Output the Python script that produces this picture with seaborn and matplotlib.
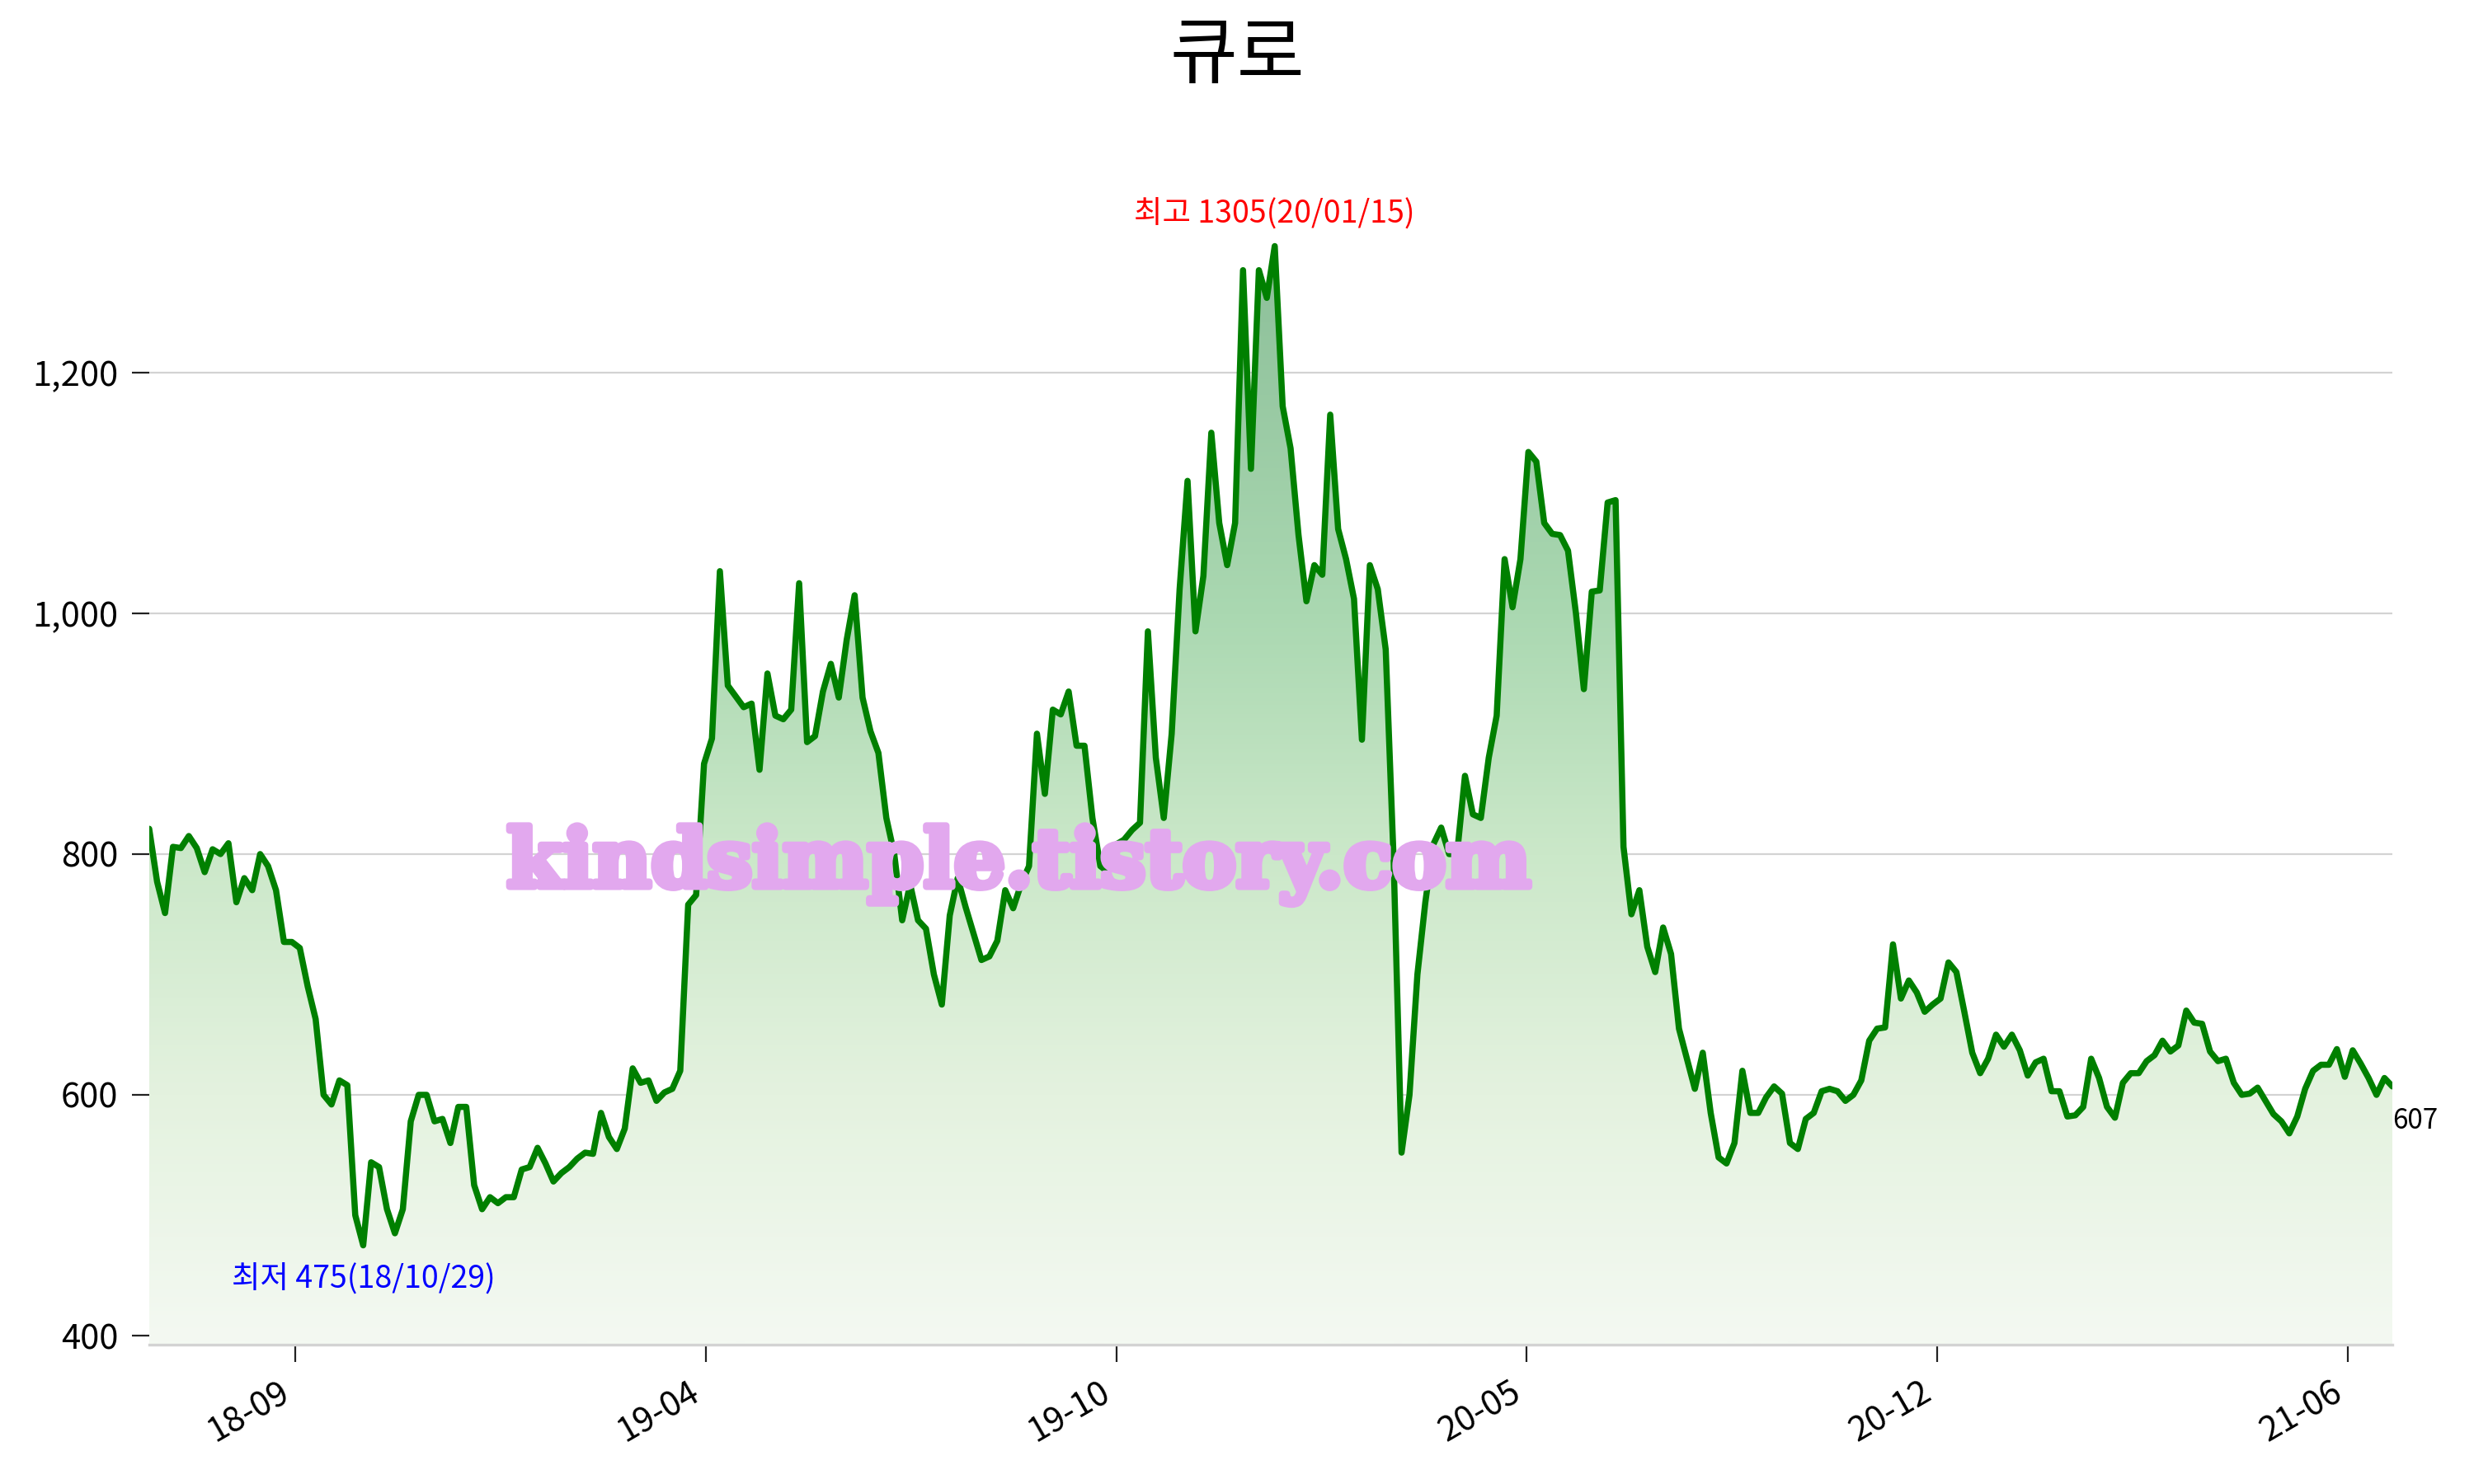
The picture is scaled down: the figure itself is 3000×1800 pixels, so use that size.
import numpy as np
import pandas as pd
import seaborn as sns
import matplotlib
matplotlib.use('Agg')
import matplotlib.pyplot as plt
import matplotlib.patheffects as pe
from matplotlib.colors import LinearSegmentedColormap
from matplotlib.patches import PathPatch
from matplotlib.ticker import FuncFormatter

# closing price, sampled about every 2.5 trading days (18-07 .. 21-06)
prices = [
    821, 777, 751, 806, 805, 815, 805, 785, 804, 800,
    809, 760, 780, 770, 800, 790, 770, 727, 727, 722,
    690, 663, 600, 592, 612, 608, 500, 475, 544, 540,
    505, 485, 505, 578, 600, 600, 578, 580, 560, 590,
    590, 525, 505, 515, 510, 515, 515, 538, 540, 556,
    543, 528, 535, 540, 547, 552, 551, 585, 565, 555,
    572, 622, 610, 612, 595, 602, 605, 620, 758, 766,
    875, 896, 1035, 940, 931, 922, 925, 870, 950, 915,
    912, 920, 1025, 893, 898, 935, 958, 930, 978, 1015,
    930, 902, 884, 830, 800, 745, 775, 745, 738, 700,
    675, 749, 780, 756, 734, 712, 715, 728, 770, 755,
    775, 790, 900, 850, 920, 916, 935, 890, 890, 830,
    790, 785, 808, 812, 820, 826, 985, 880, 830, 900,
    1020, 1110, 985, 1031, 1150, 1075, 1040, 1075, 1285, 1120,
    1285, 1262, 1305, 1172, 1137, 1065, 1010, 1040, 1032, 1165,
    1070, 1045, 1012, 895, 1040, 1020, 970, 795, 552, 600,
    700, 760, 808, 822, 800, 800, 865, 833, 830, 880,
    915, 1045, 1005, 1045, 1134, 1126, 1075, 1066, 1065, 1052,
    1000, 937, 1018, 1019, 1092, 1094, 806, 750, 770, 723,
    702, 739, 717, 655, 630, 605, 635, 585, 548, 543,
    560, 620, 585, 585, 598, 607, 601, 560, 555, 580,
    585, 603, 605, 603, 595, 600, 612, 645, 655, 656,
    725, 680, 695, 685, 669, 675, 680, 710, 702, 669,
    635, 618, 630, 650, 640, 650, 637, 616, 627, 630,
    603, 603, 582, 583, 590, 630, 614, 590, 581, 610,
    618, 618, 628, 633, 645, 636, 641, 670, 660, 659,
    636, 628, 630, 610, 600, 601, 606, 595, 584, 578,
    568, 582, 605, 620, 625, 625, 638, 615, 637, 626,
    614, 600, 614, 607,
]
tick_labels = ['18-09', '19-04', '19-10', '20-05', '20-12', '21-06']
high_date = '20/01/15'
low_date = '18/10/29'
title = '큐로'
watermark = 'kindsimple.tistory.com'

first_tick = 18.4
tick_every = 51.8
y_bottom, y_top = 392.5, 1380

sns.set_style('white')
plt.rcParams['font.family'] = ['Noto Sans CJK KR', 'DejaVu Sans']
plt.rcParams['text.color'] = 'black'
plt.rcParams['xtick.color'] = 'black'
plt.rcParams['ytick.color'] = 'black'

df = pd.DataFrame({'idx': np.arange(len(prices)), 'price': prices})

fig = plt.figure(figsize=(15, 9), dpi=200)
ax = fig.add_axes([0.0603, 0.0939, 0.9067, 0.8011])

# gradient area under the line
pmax = df['price'].max()
stops = [(y_bottom, '#f4f9f2'), (600, '#e4f2df'), (800, '#cbe8c9'),
         (1000, '#aad8b1'), (pmax, '#8cbf99')]
cmap = LinearSegmentedColormap.from_list(
    'fill', [((v - y_bottom) / (pmax - y_bottom), c) for v, c in stops])
poly = ax.fill_between(df['idx'], df['price'], y_bottom,
                       facecolor='none', edgecolor='none')
grad = np.linspace(0, 1, 512).reshape(-1, 1)
im = ax.imshow(grad, cmap=cmap, origin='lower', aspect='auto',
               extent=[df['idx'].min(), df['idx'].max(), y_bottom, pmax],
               zorder=1)
clip = PathPatch(poly.get_paths()[0], transform=ax.transData,
                 facecolor='none', edgecolor='none')
ax.add_patch(clip)
im.set_clip_path(clip)

sns.lineplot(data=df, x='idx', y='price', color='green', linewidth=2.7,
             ax=ax, zorder=3)

ax.set_xlim(df['idx'].min(), df['idx'].max())
ax.set_ylim(y_bottom, y_top)
ax.set_xlabel('')
ax.set_ylabel('')

ax.set_yticks([400, 600, 800, 1000, 1200])
ax.yaxis.set_major_formatter(FuncFormatter(lambda v, p: f'{v:,.0f}'))
ax.set_xticks([first_tick + k * tick_every for k in range(len(tick_labels))])
ax.set_xticklabels(tick_labels, rotation=30, ha='right')
ax.tick_params(axis='both', which='major', bottom=True, left=True,
               length=7.5, width=0.8, color='#222222', labelsize=15, pad=6)

ax.yaxis.grid(True, color='#d3d3d3', linewidth=0.8, zorder=0)
ax.xaxis.grid(False)
for s in ['left', 'top', 'right']:
    ax.spines[s].set_visible(False)
ax.spines['bottom'].set_color('#d3d3d3')
ax.spines['bottom'].set_linewidth(1.2)

imax = int(df['price'].idxmax())
imin = int(df['price'].idxmin())
pmin = df['price'].min()
last = df['price'].iloc[-1]
ax.text(imax, pmax * 1.02, f'최고 {pmax}({high_date})', color='red',
        ha='center', va='center', fontsize=13.5, zorder=5)
ax.text(imin, pmin * 0.94, f'최저 {pmin}({low_date})', color='blue',
        ha='center', va='center', fontsize=13.5, zorder=5)
ax.text(df['idx'].iloc[-1], last * 0.953, f'{last}',
        ha='left', va='center', fontsize=12, zorder=5, clip_on=False)

fig.text(0.412, 0.417, watermark, color='#e2a8ee', fontsize=35,
         family='DejaVu Serif', weight='bold', ha='center', va='center',
         zorder=10,
         path_effects=[pe.withStroke(linewidth=3, foreground='#e2a8ee')])
fig.text(0.5, 0.962, title, fontsize=32, ha='center', va='center')

fig.savefig('out.png', dpi=200, facecolor='white')
